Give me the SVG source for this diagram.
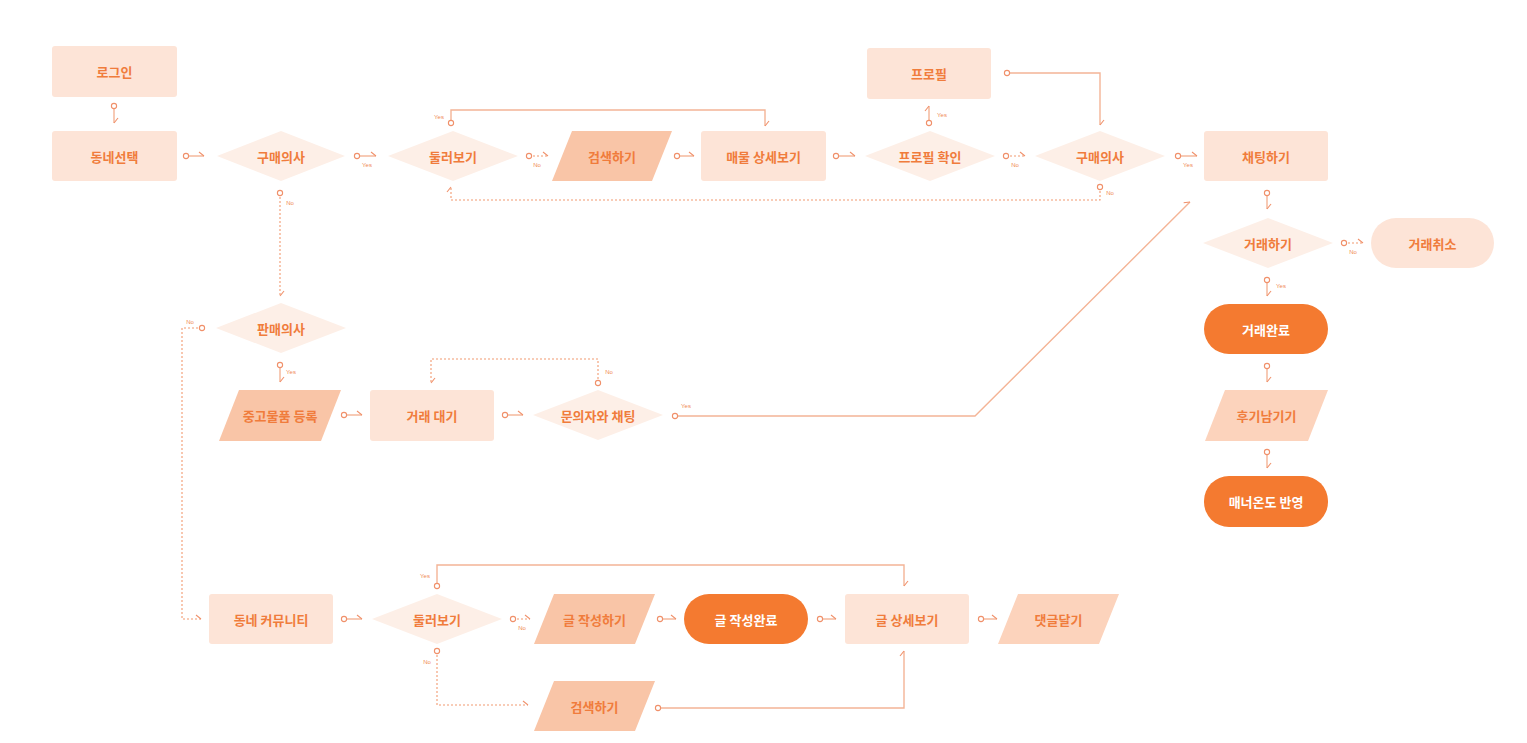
<svg xmlns="http://www.w3.org/2000/svg" width="1527" height="743" viewBox="0 0 1527 743">
<defs>
<marker id="st" viewBox="-4 -4 8 8" markerWidth="8" markerHeight="8" refX="0" refY="0" markerUnits="userSpaceOnUse" orient="auto">
<circle cx="0" cy="0" r="2.6" fill="#fff" stroke="#f0906a" stroke-width="1.1"/>
</marker>
<marker id="ar" viewBox="-8 -6 10 10" markerWidth="10" markerHeight="10" refX="0" refY="0" markerUnits="userSpaceOnUse" orient="auto">
<path d="M0,0 L-5,-4" fill="none" stroke="#f0906a" stroke-width="1.1"/>
</marker>
</defs>
<style>
.bg{fill:#fff}
.rect{fill:#fde4d7}
.dia{fill:#fdefe7}
.par{fill:#f9c5a7}
.parl{fill:#fcd3bc}
.dark{fill:#f47a30}
.t{font-family:"Noto Sans CJK KR","Noto Sans",sans-serif;font-size:13px;font-weight:700;fill:#f07c3c;text-anchor:middle;dominant-baseline:central}
.tw{fill:#fff}
.s{fill:none;stroke:#f4b496;stroke-width:1.4;marker-start:url(#st);marker-end:url(#ar)}
.d{fill:none;stroke:#f29a70;stroke-width:1.1;stroke-dasharray:2 2;marker-start:url(#st);marker-end:url(#ar)}
.l{font-family:"Liberation Sans",sans-serif;font-size:6px;fill:#f08a55;text-anchor:middle}
</style>
<rect class="bg" width="1527" height="743"/>

<g id="connectors">
<path class="s" d="M114,106 V123"/>
<path class="s" d="M186,156 H204"/>
<path class="s" d="M357,156 H376"/>
<text class="l" x="367" y="167">Yes</text>
<path class="d" d="M280,193 V296"/>
<text class="l" x="290" y="205">No</text>
<path class="d" d="M529,156 H548"/>
<text class="l" x="537" y="167">No</text>
<path class="s" d="M451,123 V110 H765 V126"/>
<text class="l" x="439" y="119">Yes</text>
<path class="s" d="M677,156 H694"/>
<path class="s" d="M836,156 H855"/>
<path class="s" d="M929,123 V106"/>
<text class="l" x="942" y="117">Yes</text>
<path class="d" d="M1006,156 H1025"/>
<text class="l" x="1015" y="167">No</text>
<path class="s" d="M1007,73 H1100 V125"/>
<path class="s" d="M1178,156 H1197"/>
<text class="l" x="1188" y="167">Yes</text>
<path class="d" d="M1100,187 V200 H451 V187"/>
<text class="l" x="1110" y="195">No</text>
<path class="s" d="M1267,193 V209"/>
<path class="d" d="M1344,243 H1363"/>
<text class="l" x="1353" y="254">No</text>
<path class="s" d="M1267,280 V296"/>
<text class="l" x="1281" y="288">Yes</text>
<path class="s" d="M1267,366 V382"/>
<path class="s" d="M1267,452 V468"/>
<path class="s" d="M280,365 V382"/>
<text class="l" x="291" y="374">Yes</text>
<path class="d" d="M202,328 H182 V619 H201"/>
<text class="l" x="190" y="324">No</text>
<path class="s" d="M344,415 H362"/>
<path class="s" d="M505,415 H523"/>
<path class="d" d="M598,383 V359 H431 V383"/>
<text class="l" x="609" y="374">No</text>
<path class="s" d="M675,416 H975 L1190,202"/>
<text class="l" x="686" y="408">Yes</text>
<path class="s" d="M344,619 H362"/>
<path class="d" d="M513,619 H530"/>
<text class="l" x="522" y="630">No</text>
<path class="s" d="M437,586 V565 H904 V586"/>
<text class="l" x="425" y="578">Yes</text>
<path class="d" d="M437,651 V705 H528"/>
<text class="l" x="427" y="664">No</text>
<path class="s" d="M660,619 H676"/>
<path class="s" d="M820,619 H836"/>
<path class="s" d="M981,619 H997"/>
<path class="s" d="M658,708 H904 V651"/>
</g>

<g id="n-login"><rect class="rect" x="52" y="46" width="125" height="51" rx="3"/><text class="t" x="114.5" y="71.5">로그인</text></g>
<g id="n-town"><rect class="rect" x="52" y="131" width="125" height="50" rx="3"/><text class="t" x="114.5" y="156">동네선택</text></g>
<g id="n-buy1"><polygon class="dia" points="217,156 281,131 345,156 281,181"/><text class="t" x="281" y="156">구매의사</text></g>
<g id="n-browse1"><polygon class="dia" points="388,156 453,131 518,156 453,181"/><text class="t" x="453" y="156">둘러보기</text></g>
<g id="n-search1"><polygon class="par" points="572,131 672,131 652,181 552,181"/><text class="t" x="612" y="156">검색하기</text></g>
<g id="n-detail"><rect class="rect" x="701" y="131" width="125" height="50" rx="3"/><text class="t" x="763.5" y="156">매물 상세보기</text></g>
<g id="n-pcheck"><polygon class="dia" points="865,156 930,131 995,156 930,181"/><text class="t" x="930" y="156">프로필 확인</text></g>
<g id="n-profile"><rect class="rect" x="867" y="48" width="124" height="51" rx="3"/><text class="t" x="929" y="73.5">프로필</text></g>
<g id="n-buy2"><polygon class="dia" points="1035,156 1100,131 1165,156 1100,181"/><text class="t" x="1100" y="156">구매의사</text></g>
<g id="n-chat"><rect class="rect" x="1204" y="131" width="124" height="50" rx="3"/><text class="t" x="1266" y="156">채팅하기</text></g>
<g id="n-deal"><polygon class="dia" points="1203,243 1268,218 1333,243 1268,268"/><text class="t" x="1268" y="243">거래하기</text></g>
<g id="n-cancel"><rect class="rect" x="1371" y="218" width="123" height="50" rx="25"/><text class="t" x="1432.5" y="243">거래취소</text></g>
<g id="n-done"><rect class="dark" x="1204" y="304" width="124" height="50" rx="25"/><text class="t tw" x="1266" y="329">거래완료</text></g>
<g id="n-review"><polygon class="parl" points="1225,390 1328,390 1308,441 1205,441"/><text class="t" x="1266.5" y="415.5">후기남기기</text></g>
<g id="n-manner"><rect class="dark" x="1204" y="476" width="124" height="51" rx="25"/><text class="t tw" x="1266" y="501.5">매너온도 반영</text></g>
<g id="n-sell"><polygon class="dia" points="216,328 281,303 346,328 281,353"/><text class="t" x="281" y="328">판매의사</text></g>
<g id="n-register"><polygon class="par" points="239,390 341,390 321,441 219,441"/><text class="t" x="280" y="415.5">중고물품 등록</text></g>
<g id="n-wait"><rect class="rect" x="370" y="390" width="124" height="51" rx="3"/><text class="t" x="432" y="415.5">거래 대기</text></g>
<g id="n-inquiry"><polygon class="dia" points="533,415 598,390 663,415 598,440"/><text class="t" x="598" y="415">문의자와 채팅</text></g>
<g id="n-community"><rect class="rect" x="209" y="594" width="124" height="50" rx="3"/><text class="t" x="271" y="619">동네 커뮤니티</text></g>
<g id="n-browse2"><polygon class="dia" points="372,619 437,594 502,619 437,644"/><text class="t" x="437" y="619">둘러보기</text></g>
<g id="n-write"><polygon class="par" points="554,594 655,594 635,644 534,644"/><text class="t" x="594.5" y="619">글 작성하기</text></g>
<g id="n-written"><rect class="dark" x="684" y="594" width="124" height="50" rx="25"/><text class="t tw" x="746" y="619">글 작성완료</text></g>
<g id="n-postdetail"><rect class="rect" x="845" y="594" width="124" height="50" rx="3"/><text class="t" x="907" y="619">글 상세보기</text></g>
<g id="n-comment"><polygon class="parl" points="1018,594 1119,594 1099,644 998,644"/><text class="t" x="1058.5" y="619">댓글달기</text></g>
<g id="n-search2"><polygon class="par" points="554,681 655,681 635,731 534,731"/><text class="t" x="594.5" y="706">검색하기</text></g>
</svg>
